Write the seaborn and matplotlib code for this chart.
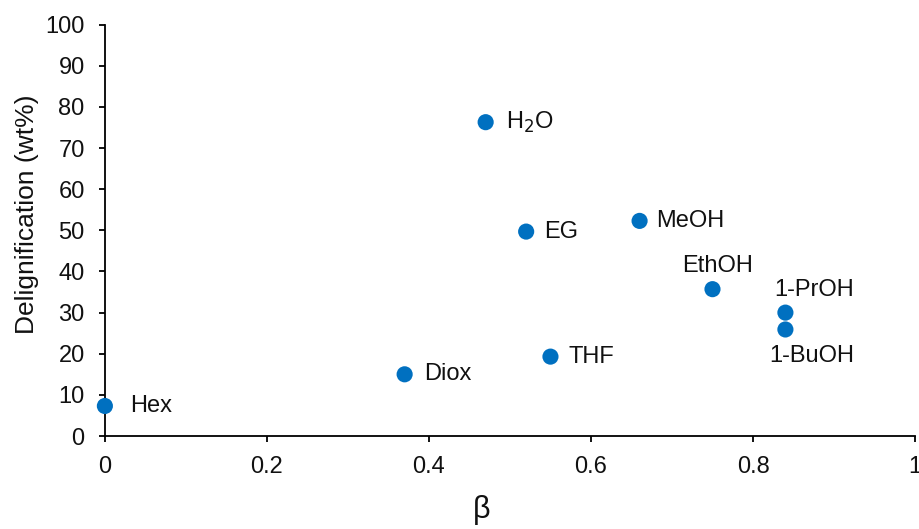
import matplotlib
matplotlib.use("Agg")
import matplotlib.pyplot as plt
import seaborn as sns
import pandas as pd

# Solvent basicity (beta) vs delignification
solvents = ["Hex", "Diox", "H$_2$O", "EG", "THF", "MeOH", "EthOH", "1-PrOH", "1-BuOH"]
beta = [0.0, 0.37, 0.47, 0.52, 0.55, 0.66, 0.75, 0.84, 0.84]
delignification = [7.3, 15.0, 76.3, 49.7, 19.3, 52.3, 35.7, 30.0, 25.9]

# label offsets in points (dx, dy) and horizontal alignment
label_offsets = {
    "Hex": (18, 0, "left"),
    "Diox": (14, 0, "left"),
    "H$_2$O": (15, 0, "left"),
    "EG": (13, 0, "left"),
    "THF": (13, 0, "left"),
    "MeOH": (12, 0, "left"),
    "EthOH": (4, 17, "center"),
    "1-PrOH": (21, 16, "center"),
    "1-BuOH": (19, -19, "center"),
}

df = pd.DataFrame({"solvent": solvents, "beta": beta, "delig": delignification})

sns.set_style("white")
plt.rcParams["font.family"] = ["Liberation Sans", "DejaVu Sans"]

fig = plt.figure(figsize=(9.2, 5.29), dpi=100)
ax = fig.add_axes([0.114, 0.1758, 0.8806, 0.7775])

sns.scatterplot(data=df, x="beta", y="delig", ax=ax, s=135, color="#0070C0",
                edgecolor="none", zorder=3, clip_on=False)

for name, x, y in zip(solvents, beta, delignification):
    dx, dy, ha = label_offsets[name]
    ax.annotate(name, (x, y), xytext=(dx, dy), textcoords="offset points",
                ha=ha, va="center", fontsize=17, color="#111111")

ax.set_xlim(0, 1)
ax.set_ylim(0, 100)
ax.set_xticks([0, 0.2, 0.4, 0.6, 0.8, 1])
ax.set_xticklabels(["0", "0.2", "0.4", "0.6", "0.8", "1"])
ax.set_yticks(range(0, 101, 10))

for side in ["top", "right"]:
    ax.spines[side].set_visible(False)
for side in ["left", "bottom"]:
    ax.spines[side].set_color("black")
    ax.spines[side].set_linewidth(1.3)

ax.tick_params(axis="both", which="major", direction="out", length=4.5, width=1.3,
               color="black", labelsize=17, labelcolor="#111111", pad=10,
               left=True, bottom=True)

ax.set_xlabel("β", fontsize=22, color="#111111")
ax.set_ylabel("Delignification (wt%)", fontsize=19, color="#111111")
ax.xaxis.set_label_coords(0.465, -0.143)
ax.yaxis.set_label_coords(-0.081, 0.54)

fig.savefig("out.png", dpi=100)
